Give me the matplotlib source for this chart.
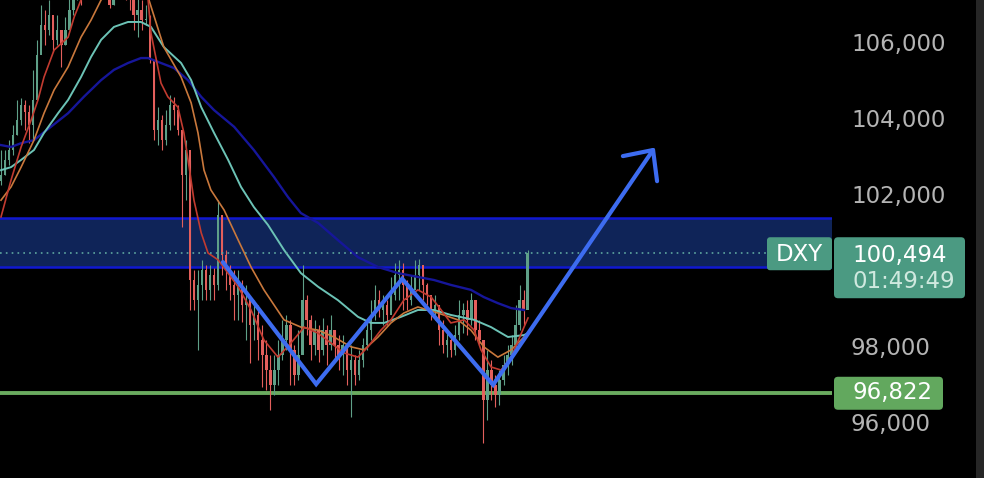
import matplotlib.pyplot as plt
from matplotlib.patches import FancyBboxPatch, Rectangle
import numpy as np

# DXY candles, one per bar index (open of bar i = close of bar i-1)
first_open = 102.40
close = [102.55, 102.95, 103.21, 103.61, 104.00, 104.39, 104.21, 103.87, 104.53, 105.71,
         106.50, 106.37, 106.76, 106.11, 106.37, 105.97, 106.37, 106.89, 107.29, 107.55,
         107.42, 107.68, 107.82, 107.55, 107.68, 107.82, 107.55, 107.03, 107.29, 107.55,
         107.68, 107.42, 107.16, 106.76, 106.89, 106.63, 106.63, 105.58, 103.74, 104.00,
         103.47, 103.87, 104.39, 104.26, 103.74, 102.55, 103.21, 99.79, 99.26, 99.66,
         100.05, 99.53, 99.92, 99.66, 101.50, 100.45, 100.05, 99.66, 99.39, 99.66,
         99.13, 99.26, 98.61, 98.87, 98.21, 97.82, 97.42, 97.03, 97.42, 97.82,
         98.21, 98.61, 97.95, 97.29, 97.82, 99.26, 98.74, 98.08, 98.47, 97.95,
         98.47, 98.08, 98.47, 98.08, 97.82, 98.08, 97.42, 97.68, 97.29, 97.68,
         98.08, 98.47, 98.87, 99.26, 99.00, 99.13, 98.87, 99.39, 99.92, 100.05,
         99.66, 99.26, 99.53, 99.92, 100.19, 99.66, 99.39, 99.00, 99.13, 98.47,
         98.08, 98.21, 97.95, 98.34, 98.87, 99.00, 98.74, 99.26, 98.47, 98.21,
         96.63, 97.42, 97.03, 96.76, 97.16, 97.55, 97.82, 98.08, 98.61, 99.26,
         99.00, 100.494]
high = [103.21, 103.21, 103.47, 103.87, 104.53, 104.58, 104.53, 104.39, 105.32, 106.11,
        107.03, 106.89, 107.16, 106.63, 106.76, 106.37, 106.71, 107.42, 107.68, 107.95,
        107.95, 108.08, 108.21, 107.95, 108.08, 108.21, 107.95, 107.55, 107.68, 107.95,
        108.08, 107.82, 107.55, 107.16, 107.29, 107.16, 107.03, 106.76, 105.58, 104.34,
        104.13, 104.26, 104.66, 104.61, 104.39, 103.74, 103.47, 102.95, 100.05, 100.05,
        100.32, 100.19, 100.19, 100.11, 101.89, 101.50, 100.58, 100.19, 100.05, 100.05,
        99.79, 99.66, 99.26, 99.26, 99.13, 98.61, 98.21, 97.82, 97.82, 98.21,
        98.74, 98.87, 98.74, 98.08, 98.47, 100.19, 99.39, 98.87, 98.74, 98.61,
        98.79, 98.61, 98.87, 98.47, 98.34, 98.34, 98.13, 98.08, 97.82, 97.95,
        98.26, 98.74, 99.26, 99.66, 99.53, 99.39, 99.26, 99.87, 100.24, 100.32,
        100.24, 99.79, 99.92, 100.32, 100.34, 100.05, 99.71, 99.39, 99.39, 99.13,
        98.74, 98.47, 98.34, 98.61, 99.26, 99.18, 99.26, 99.45, 99.26, 98.74,
        98.21, 97.95, 97.68, 97.29, 97.42, 97.82, 98.08, 98.34, 99.13, 99.66,
        99.53, 100.58]
low = [102.29, 102.55, 102.82, 103.08, 103.61, 103.87, 103.74, 103.39, 103.47, 105.05,
       105.97, 105.97, 106.24, 105.79, 105.97, 105.40, 105.97, 106.50, 106.76, 107.16,
       107.03, 107.29, 107.42, 107.21, 107.29, 107.42, 107.29, 106.95, 107.03, 107.29,
       107.29, 107.16, 106.89, 106.37, 106.18, 106.37, 106.50, 105.50, 103.47, 103.34,
       103.21, 103.34, 103.74, 103.87, 103.61, 101.18, 101.89, 99.00, 99.00, 97.95,
       99.26, 99.26, 99.26, 99.26, 99.53, 99.92, 99.53, 99.26, 98.74, 98.74,
       98.68, 98.21, 97.61, 98.21, 97.68, 96.97, 96.89, 96.37, 96.76, 97.03,
       97.68, 97.95, 97.03, 97.03, 97.16, 98.47, 98.34, 97.68, 97.82, 97.63,
       97.82, 97.55, 97.95, 97.68, 97.42, 97.29, 97.03, 96.18, 97.03, 97.16,
       97.50, 97.95, 98.21, 98.74, 98.82, 98.61, 98.61, 99.00, 99.26, 99.26,
       99.00, 99.00, 99.13, 99.61, 99.53, 99.26, 99.13, 98.74, 98.74, 98.08,
       97.87, 97.76, 97.76, 97.82, 98.21, 98.39, 98.34, 98.61, 98.21, 98.08,
       95.50, 96.11, 96.63, 96.45, 96.50, 97.03, 97.29, 97.55, 97.95, 98.47,
       98.61, 99.26]

# moving averages (bar index, price)
ma_red_x = [0, 2.5, 5, 7.5, 9.2, 10.7, 13.2, 16.7, 18.2, 19.9, 24.9, 29.9, 34.8, 36.6, 37.3,
            39.8, 41.5, 44.0, 45.5, 46.8, 48.0, 49.8, 51.5, 54.0, 59.0, 62.2, 65.4, 68.9,
            72.1, 75.4, 78.9, 82.1, 85.3, 88.8, 91.3, 94.5, 97.0, 100.2, 103.7, 107.0,
            109.5, 111.9, 115.2, 117.7, 119.4, 121.9, 124.4, 126.9, 130.1, 131.1]
ma_red_y = [101.45, 102.42, 103.29, 104.00, 104.53, 105.13, 105.84, 106.18, 106.71, 107.16,
            107.95, 108.21, 107.68, 107.16, 106.29, 104.97, 104.61, 104.34, 103.66, 102.76,
            101.89, 101.03, 100.50, 100.32, 99.61, 99.00, 98.21, 97.76, 98.13, 98.55,
            98.39, 98.13, 97.87, 97.76, 98.03, 98.47, 98.74, 99.26, 99.53, 99.34,
            99.00, 98.66, 98.74, 98.47, 97.95, 97.50, 97.42, 97.76, 98.55, 98.79]
ma_orange_x = [0, 2.5, 5, 8.2, 10.7, 13.2, 16.7, 19.9, 22.4, 24.9, 29.9, 33.6, 36.8, 40.5,
               44.8, 47.3, 49.0, 50.5, 52.2, 55.5, 59.0, 62.2, 65.4, 70.4, 74.6, 78.9,
               82.8, 87.1, 90.3, 93.8, 97.0, 100.2, 103.7, 108.7, 113.7, 116.9, 120.1,
               123.6, 126.9, 130.1, 131.1]
ma_orange_y = [101.89, 102.24, 102.76, 103.47, 104.18, 104.79, 105.40, 106.18, 106.63, 107.16,
               107.68, 107.55, 107.16, 105.92, 105.13, 104.45, 103.66, 102.68, 102.16, 101.63,
               100.84, 100.13, 99.53, 98.74, 98.55, 98.47, 98.29, 98.03, 97.95, 98.29,
               98.66, 98.92, 99.08, 98.92, 98.74, 98.47, 98.03, 97.76, 97.95, 98.29, 98.39]
ma_teal_x = [0, 2.5, 5, 8.2, 10.7, 14.2, 16.7, 19.9, 22.4, 24.9, 28.1, 31.6, 34.8, 37.3,
             40.5, 44.8, 47.3, 49.8, 53.0, 56.5, 59.7, 62.9, 66.4, 70.4, 74.6, 78.9, 83.8,
             88.8, 92.0, 95.3, 99.5, 103.7, 107.7, 111.9, 117.7, 121.9, 126.1, 130.1, 131.1]
ma_teal_y = [102.68, 102.76, 102.95, 103.21, 103.66, 104.18, 104.53, 105.13, 105.66, 106.11,
             106.45, 106.58, 106.58, 106.45, 105.92, 105.50, 105.05, 104.34, 103.66, 102.95,
             102.24, 101.71, 101.24, 100.58, 99.97, 99.61, 99.26, 98.82, 98.66, 98.66,
             98.82, 99.00, 99.00, 98.87, 98.74, 98.55, 98.29, 98.34, 98.39]
ma_navy_x = [0, 2.5, 5, 8.2, 12.4, 16.7, 20.6, 24.9, 28.1, 31.6, 34.8, 36.6, 39.8, 43.0,
             46.5, 49.8, 53.0, 58.0, 62.9, 67.9, 71.4, 74.6, 78.9, 83.8, 88.8, 93.8, 98.8,
             103.7, 107.7, 111.9, 116.9, 120.1, 123.6, 126.9, 130.1]
ma_navy_y = [103.34, 103.29, 103.39, 103.47, 103.82, 104.18, 104.61, 105.05, 105.32, 105.50,
             105.63, 105.63, 105.50, 105.37, 105.05, 104.61, 104.26, 103.82, 103.21, 102.50,
             101.97, 101.55, 101.29, 100.84, 100.39, 100.13, 99.97, 99.87, 99.79, 99.66,
             99.53, 99.34, 99.18, 99.05, 99.00]

# drawn pattern (bar index, price)
zig_x = [55.2, 78.4, 99.8, 122.4, 162.2]
zig_y = [100.26, 97.05, 99.82, 97.03, 103.21]
head_x = [154.7, 162.2, 163.2]
head_y = [103.05, 103.21, 102.39]

band_low, band_high = 100.13, 101.42
support = 96.822
last_price = 100.494
ticks = [106, 104, 102, 98, 96]

ylo, yhi = 94.579, 107.158
W, H = 984, 478
fig = plt.figure(figsize=(W / 100, H / 100), dpi=100, facecolor='black')
ax = fig.add_axes([0, 0, 832 / W, 1])
ax.set_facecolor('black')
ax.set_xlim(-0.25, -0.25 + 832 / 4.02)
ax.set_ylim(ylo, yhi)
ax.axis('off')

ax.axhspan(band_low, band_high, color='#0f2458', zorder=1, lw=0)
ax.axhline(band_low, color='#1018d0', lw=1.8, zorder=1.1)
ax.axhline(band_high, color='#1018d0', lw=1.8, zorder=1.1)
ax.axhline(support, color='#6aab5f', lw=2.8, zorder=1.2)

idx = np.arange(len(close))
opens = np.array([first_open] + close[:-1])
closes = np.array(close)
cols = np.where(closes >= opens, '#5fa088', '#e35f5c')
ax.vlines(idx, low, high, colors=cols, lw=0.8, zorder=2)
ax.bar(idx, np.maximum(np.abs(closes - opens), 0.03), bottom=np.minimum(opens, closes),
       width=0.6, color=cols, lw=0, zorder=2)

ax.plot(ma_navy_x, ma_navy_y, color='#16169a', lw=1.7, zorder=3)
ax.plot(ma_teal_x, ma_teal_y, color='#6cc3b6', lw=1.4, zorder=3)
ax.plot(ma_orange_x, ma_orange_y, color='#c9783c', lw=1.2, zorder=3)
ax.plot(ma_red_x, ma_red_y, color='#c23b30', lw=1.2, zorder=3)

ax.plot(zig_x, zig_y, color='#3d6cf0', lw=3.0, zorder=4, solid_capstyle='round',
        solid_joinstyle='miter')
ax.plot(head_x, head_y, color='#3d6cf0', lw=3.0, zorder=4, solid_capstyle='round')

ax.plot([-0.25, 191], [last_price, last_price], color='#5fa8a0', lw=1.2,
        ls=(0, (1, 2.5)), zorder=3.5)

# price scale column
pa = fig.add_axes([832 / W, 0, 152 / W, 1])
pa.set_facecolor('black')
pa.set_xlim(0, 152)
pa.set_ylim(ylo, yhi)
pa.axis('off')
pa.add_patch(Rectangle((144, ylo), 8, yhi - ylo, color='#262626', lw=0))

font = 'DejaVu Sans'
for t in ticks:
    pa.text(19, t, f'{t:.3f}'.replace('.', ','), color='#b4b4b4', fontsize=16.5,
            family=font, va='center', ha='left')

k = 1 / 38.0
pa.add_patch(FancyBboxPatch((2, last_price - 45 * k), 131, 61 * k,
                            boxstyle='round,pad=0,rounding_size=4', mutation_aspect=k,
                            color='#4b9a82', lw=0, zorder=5))
pa.text(20, last_price - 2 * k, f'{last_price:.3f}'.replace('.', ','), color='white',
        fontsize=16.5, family=font, va='center', ha='left', zorder=6)
pa.text(20, last_price - 28 * k, '01:49:49', color='#cfe9df',
        fontsize=16.5, family=font, va='center', ha='left', zorder=6)

pa.add_patch(FancyBboxPatch((-65, last_price - 17 * k), 65, 33 * k,
                            boxstyle='round,pad=0,rounding_size=3', mutation_aspect=k,
                            color='#4b9a82', lw=0, zorder=5, clip_on=False))
pa.text(-32.5, last_price - 1 * k, 'DXY', color='white', fontsize=16.5, family=font,
        va='center', ha='center', zorder=6, clip_on=False)

pa.add_patch(FancyBboxPatch((2, support - 17 * k), 109, 33 * k,
                            boxstyle='round,pad=0,rounding_size=4', mutation_aspect=k,
                            color='#62a85e', lw=0, zorder=5))
pa.text(20, support, f'{support:.3f}'.replace('.', ','), color='white',
        fontsize=16.5, family=font, va='center', ha='left', zorder=6)

plt.savefig('out.png', dpi=100, facecolor='black')
